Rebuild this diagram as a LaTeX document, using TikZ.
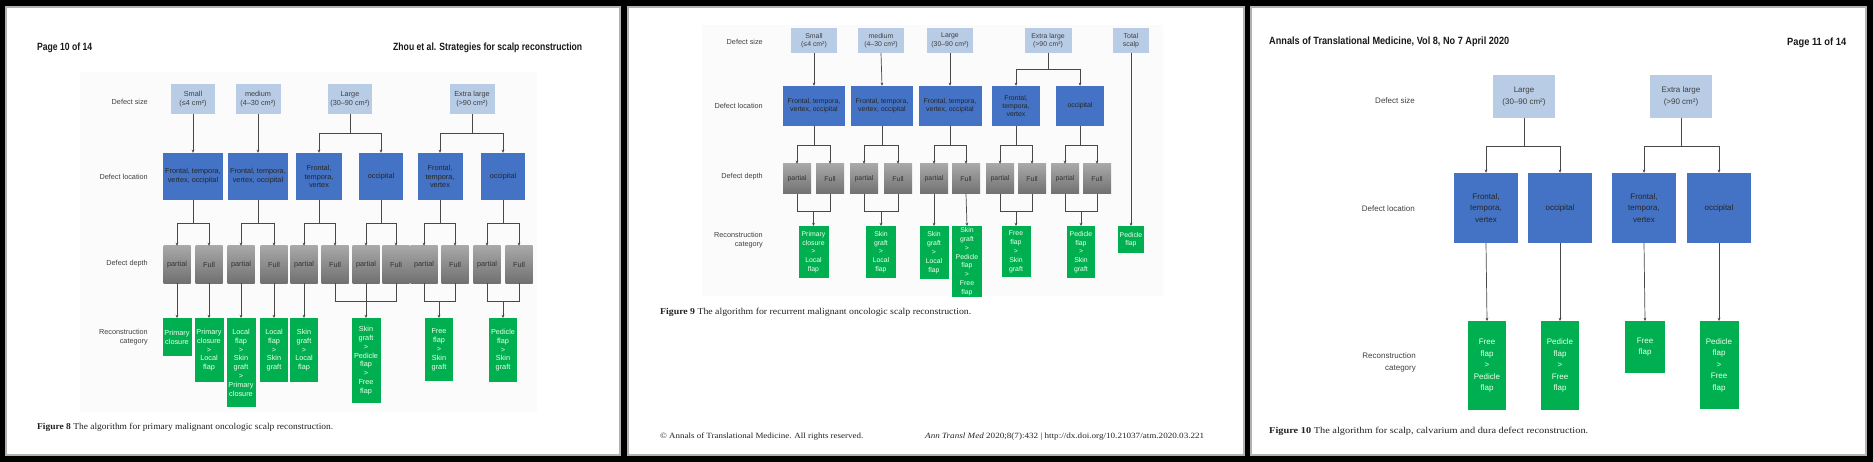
\documentclass[tikz,border=0pt]{standalone}
\usepackage{fontspec}
\setmainfont{Liberation Sans}
\newfontfamily\capfont{Liberation Serif}
\usetikzlibrary{arrows.meta}
\definecolor{szblue}{HTML}{B8CCE6}
\definecolor{locblue}{HTML}{4472C4}
\definecolor{recgreen}{HTML}{00B050}
\definecolor{lbl}{HTML}{404040}
\definecolor{ln}{HTML}{484848}
\definecolor{depT}{HTML}{A8A8A8}
\definecolor{depB}{HTML}{707070}
\definecolor{capc}{HTML}{222222}
\definecolor{figbg}{HTML}{FBFBFB}
\newcommand\fitw[2]{\resizebox{#1}{\height}{#2}}
\newcommand\bx[6]{\node[#1,minimum width=#4pt,minimum height=#5pt] (#2) at (#3) {#6};}
\tikzset{
  box/.style={inner sep=0pt, align=center},
  fA/.style={font=\fontsize{7.3}{8.8}\selectfont},
  fB/.style={font=\fontsize{6.9}{8.4}\selectfont},
  fC/.style={font=\fontsize{8}{11.6}\selectfont},
  sz/.style={box, fill=szblue, text=lbl},
  loc/.style={box, fill=locblue, text=black!85},
  dep/.style={box, top color=depT, bottom color=depB, text=black!80},
  rec/.style={box, fill=recgreen, text=white!92!green, anchor=north},
  rowlbl/.style={inner sep=0pt, align=right, anchor=east, text=lbl},
  conn/.style={draw=ln, line width=0.7pt},
  arr/.style={conn, -{Stealth[length=3.2pt,width=2.8pt]}},
  hdr/.style={inner sep=0pt, anchor=west, text=black!90, font=\fontsize{10.5}{12}\selectfont\bfseries},
  captext/.style={inner sep=0pt, anchor=west, text=capc, font=\capfont\fontsize{9}{11}\selectfont},
  ftr/.style={inner sep=0pt, anchor=west, text=capc, font=\capfont\fontsize{8}{10}\selectfont}
}
\begin{document}
\begin{tikzpicture}[x=1pt,y=-1pt]
\useasboundingbox (0,0) rectangle (1873,462);
\fill[black] (0,0) rectangle (1873,462);
% pages
\foreach \a/\b in {5/621,627/1245,1250/1867}{
  \fill[white] (\a,6) rectangle (\b,456);
  \draw[gray!60, line width=2pt] (\a+1,7) rectangle (\b-1,455);
}
\fill[figbg] (80,72) rectangle (537,412);
\fill[figbg] (702,25) rectangle (1163,296);

%================ PAGE 1 ================
\node[hdr] (p1h1) at (37,48) {\fitw{55pt}{Page 10 of 14}};
\node[hdr] (p1h2) at (393,48) {\fitw{189pt}{Zhou et al. Strategies for scalp reconstruction}};
\node[rowlbl,fA] (p1r1) at (148,102) {Defect size};
\node[rowlbl,fA] (p1r2) at (148,177) {Defect location};
\node[rowlbl,fA] (p1r3) at (148,264) {Defect depth};
\node[rowlbl,fA] (p1r4) at (148,337.5) {Reconstruction\\category};

\bx{sz,fA}{a1}{193,99}{44}{30}{Small\\(≤4 cm²)}
\bx{sz,fA}{a2}{258,99}{45}{30}{medium\\(4–30 cm²)}
\bx{sz,fA}{a3}{350,99}{44}{30}{Large\\(30–90 cm²)}
\bx{sz,fA}{a4}{472,99}{45}{30}{Extra large\\(>90 cm²)}

\bx{loc,fA}{b1}{193,176.5}{60}{47}{Frontal, tempora,\\vertex, occipital}
\bx{loc,fA}{b2}{258,176.5}{60}{47}{Frontal, tempora,\\vertex, occipital}
\bx{loc,fA}{b3}{319,176.5}{46}{47}{Frontal,\\tempora,\\vertex}
\bx{loc,fA}{b4}{381,176.5}{44}{47}{occipital}
\bx{loc,fA}{b5}{440,176.5}{45}{47}{Frontal,\\tempora,\\vertex}
\bx{loc,fA}{b6}{503,176.5}{44}{47}{occipital}

\bx{dep,fA}{c1}{177,264.5}{27}{37}{partial}
\bx{dep,fA}{c2}{209,264.5}{27}{37}{Full}
\bx{dep,fA}{c3}{241,264.5}{27}{37}{partial}
\bx{dep,fA}{c4}{274,264.5}{27}{37}{Full}
\bx{dep,fA}{c5}{304,264.5}{27}{37}{partial}
\bx{dep,fA}{c6}{335,264.5}{27}{37}{Full}
\bx{dep,fA}{c7}{366,264.5}{27}{37}{partial}
\bx{dep,fA}{c8}{396,264.5}{27}{37}{Full}
\bx{dep,fA}{c9}{424,264.5}{27}{37}{partial}
\bx{dep,fA}{c10}{455,264.5}{27}{37}{Full}
\bx{dep,fA}{c11}{487,264.5}{27}{37}{partial}
\bx{dep,fA}{c12}{519,264.5}{27}{37}{Full}

\bx{rec,fA}{r1}{177,318}{29}{38}{Primary\\closure}
\bx{rec,fA}{r2}{209,318}{29}{64}{Primary\\closure\\>\\Local\\flap}
\bx{rec,fA}{r3}{241,318}{29}{89}{Local\\flap\\>\\Skin\\graft\\>\\Primary\\closure}
\bx{rec,fA}{r4}{274,318}{28}{64}{Local\\flap\\>\\Skin\\graft}
\bx{rec,fA}{r5}{304,318}{28}{64}{Skin\\graft\\>\\Local\\flap}
\bx{rec,fA}{r6}{366,318}{29}{85}{Skin\\graft\\>\\Pedicle\\flap\\>\\Free\\flap}
\bx{rec,fA}{r7}{439,318}{28}{63}{Free\\flap\\>\\Skin\\graft}
\bx{rec,fA}{r8}{503,318}{28}{64}{Pedicle\\flap\\>\\Skin\\graft}

\draw[arr] (a1.south) -- (b1.north);
\draw[arr] (a2.south) -- (b2.north);
\draw[arr] (a3.south) -- ++(0,19) -| (b3.north);
\draw[arr] (a3.south) -- ++(0,19) -| (b4.north);
\draw[arr] (a4.south) -- ++(0,19) -| (b5.north);
\draw[arr] (a4.south) -- ++(0,19) -| (b6.north);
\foreach \l/\p/\q in {b1/c1/c2,b2/c3/c4,b3/c5/c6,b4/c7/c8,b5/c9/c10,b6/c11/c12}{
  \draw[arr] (\l.south) -- ++(0,23) -| (\p.north);
  \draw[arr] (\l.south) -- ++(0,23) -| (\q.north);
}
\foreach \d/\r in {c1/r1,c2/r2,c3/r3,c4/r4,c5/r5}{
  \draw[arr] (\d.south) -- (\r.north);
}
\draw[conn] (c6.south) -- ++(0,18) -| (c8.south);
\draw[arr] (c7.south) -- (r6.north);
\draw[conn] (c9.south) -- ++(0,18) coordinate (k1) -| (c10.south);
\draw[arr] (k1 -| r7.north) -- (r7.north);
\draw[conn] (c11.south) -- ++(0,18) coordinate (k2) -| (c12.south);
\draw[arr] (k2 -| r8.north) -- (r8.north);

\node[captext] (p1c) at (37,427) {\fitw{296pt}{\textbf{Figure 8} The algorithm for primary malignant oncologic scalp reconstruction.}};

%================ PAGE 2 ================
\node[rowlbl,fA] (p2r1) at (763,42) {Defect size};
\node[rowlbl,fA] (p2r2) at (763,106) {Defect location};
\node[rowlbl,fA] (p2r3) at (763,177) {Defect depth};
\node[rowlbl,fA] (p2r4) at (763,240) {Reconstruction\\category};

\bx{sz,fB}{e1}{814,40.5}{46}{25}{Small\\(≤4 cm²)}
\bx{sz,fB}{e2}{881,40.5}{46}{25}{medium\\(4–30 cm²)}
\bx{sz,fB}{e3}{950,40.5}{46}{25}{Large\\(30–90 cm²)}
\bx{sz,fB}{e4}{1048,40.5}{47}{25}{Extra large\\(>90 cm²)}
\bx{sz,fB}{e5}{1131,40.5}{36}{25}{Total\\scalp}

\bx{loc,fB}{f1}{814,106}{62}{40}{Frontal, tempora,\\vertex, occipital}
\bx{loc,fB}{f2}{882,106}{62}{40}{Frontal, tempora,\\vertex, occipital}
\bx{loc,fB}{f3}{950,106}{63}{40}{Frontal, tempora,\\vertex, occipital}
\bx{loc,fB}{f4}{1016,106}{48}{40}{Frontal,\\tempora,\\vertex}
\bx{loc,fB}{f5}{1080,106}{48}{40}{occipital}

\bx{dep,fB}{g1}{797,179}{28}{30}{partial}
\bx{dep,fB}{g2}{830,179}{28}{30}{Full}
\bx{dep,fB}{g3}{864,179}{28}{30}{partial}
\bx{dep,fB}{g4}{898,179}{28}{30}{Full}
\bx{dep,fB}{g5}{934,179}{28}{30}{partial}
\bx{dep,fB}{g6}{966,179}{28}{30}{Full}
\bx{dep,fB}{g7}{1000,179}{28}{30}{partial}
\bx{dep,fB}{g8}{1032,179}{28}{30}{Full}
\bx{dep,fB}{g9}{1065,179}{28}{30}{partial}
\bx{dep,fB}{g10}{1097,179}{28}{30}{Full}

\tikzset{fR/.style={font=\fontsize{6.9}{8.9}\selectfont}}
\bx{rec,fR}{h1}{813.5,226}{30}{52}{Primary\\closure\\>\\Local\\flap}
\bx{rec,fR}{h2}{881,226}{30}{52}{Skin\\graft\\>\\Local\\flap}
\bx{rec,fR}{h3}{934,226}{29}{53}{Skin\\graft\\>\\Local\\flap}
\bx{rec,fR}{h4}{967,226}{30}{71}{Skin\\graft\\>\\Pedicle\\flap\\>\\Free\\flap}
\bx{rec,fR}{h5}{1016,226}{29}{51}{Free\\flap\\>\\Skin\\graft}
\bx{rec,fR}{h6}{1081,226}{28}{52}{Pedicle\\flap\\>\\Skin\\graft}
\bx{rec,fR}{h7}{1131,226}{26}{27}{Pedicle\\flap}

\draw[arr] (e1.south) -- (f1.north);
\draw[arr] (e2.south) -- (f2.north);
\draw[arr] (e3.south) -- (f3.north);
\draw[arr] (e4.south) -- ++(0,16) -| (f4.north);
\draw[arr] (e4.south) -- ++(0,16) -| (f5.north);
\draw[arr] (e5.south) -- (h7.north);
\foreach \l/\p/\q in {f1/g1/g2,f2/g3/g4,f3/g5/g6,f4/g7/g8,f5/g9/g10}{
  \draw[arr] (\l.south) -- ++(0,19) -| (\p.north);
  \draw[arr] (\l.south) -- ++(0,19) -| (\q.north);
}
\foreach \p/\q/\r/\k in {g1/g2/h1/q1,g3/g4/h2/q2,g7/g8/h5/q3,g9/g10/h6/q4}{
  \draw[conn] (\p.south) -- ++(0,17) coordinate (\k) -| (\q.south);
  \draw[arr] (\k -| \r.north) -- (\r.north);
}
\draw[arr] (g5.south) -- (h3.north);
\draw[arr] (g6.south) -- (h4.north);

\node[captext] (p2c) at (660,312) {\fitw{311pt}{\textbf{Figure 9} The algorithm for recurrent malignant oncologic scalp reconstruction.}};
\node[ftr] (p2f1) at (660,437) {\fitw{203pt}{© Annals of Translational Medicine. All rights reserved.}};
\node[ftr] (p2f2) at (925,437) {\fitw{279pt}{\textit{Ann Transl Med} 2020;8(7):432 | http://dx.doi.org/10.21037/atm.2020.03.221}};

%================ PAGE 3 ================
\node[hdr] (p3h1) at (1269,42) {\fitw{240pt}{Annals of Translational Medicine, Vol 8, No 7 April 2020}};
\node[hdr] (p3h2) at (1787,43) {\fitw{59pt}{Page 11 of 14}};
\node[rowlbl,fC] (p3r1) at (1415,101) {Defect size};
\node[rowlbl,fC] (p3r2) at (1415,209) {Defect location};
\node[rowlbl,fC] (p3r4) at (1416,362.5) {Reconstruction\\category};

\bx{sz,fC}{m1}{1524,96.5}{62}{43}{Large\\(30–90 cm²)}
\bx{sz,fC}{m2}{1681,96.5}{62}{43}{Extra large\\(>90 cm²)}

\bx{loc,fC}{n1}{1486,208}{64}{70}{Frontal,\\tempora,\\vertex}
\bx{loc,fC}{n2}{1560,208}{64}{70}{occipital}
\bx{loc,fC}{n3}{1644,208}{64}{70}{Frontal,\\tempora,\\vertex}
\bx{loc,fC}{n4}{1719,208}{64}{70}{occipital}

\bx{rec,fC}{o1}{1487,321}{38}{89}{Free\\flap\\>\\Pedicle\\flap}
\bx{rec,fC}{o2}{1560,321}{38}{89}{Pedicle\\flap\\>\\Free\\flap}
\bx{rec,fC}{o3}{1645,321}{40}{52}{Free\\flap}
\bx{rec,fC}{o4}{1719,321}{39}{88}{Pedicle\\flap\\>\\Free\\flap}

\draw[arr] (m1.south) -- ++(0,28) -| (n1.north);
\draw[arr] (m1.south) -- ++(0,28) -| (n2.north);
\draw[arr] (m2.south) -- ++(0,28) -| (n3.north);
\draw[arr] (m2.south) -- ++(0,28) -| (n4.north);
\draw[arr] (n1.south) -- (o1.north);
\draw[arr] (n2.south) -- (o2.north);
\draw[arr] (n3.south) -- (o3.north);
\draw[arr] (n4.south) -- (o4.north);

\node[captext] (p3c) at (1269,431) {\fitw{319pt}{\textbf{Figure 10} The algorithm for scalp, calvarium and dura defect reconstruction.}};
\end{tikzpicture}
\end{document}
